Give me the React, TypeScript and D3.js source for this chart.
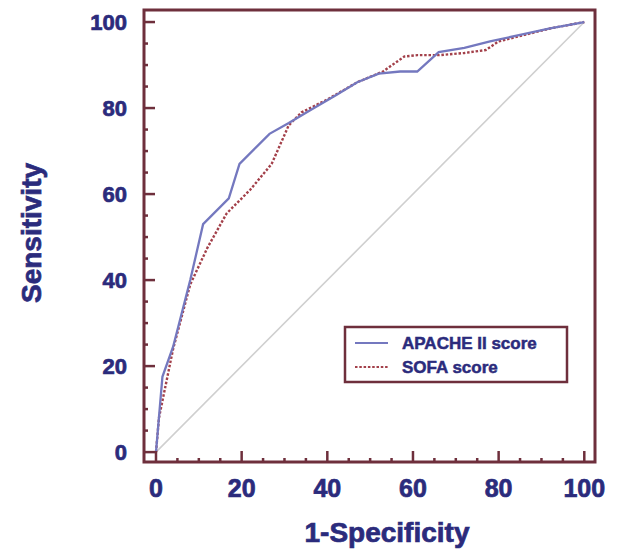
import React, { useEffect, useRef } from 'react';
import * as d3 from 'd3';

// ROC curves: [1-specificity, sensitivity]
const apacheX = [0, 1.5, 4, 8, 11, 17, 19.5, 26.5, 31, 36, 42, 47, 52, 57, 61, 66, 72, 78, 85, 92, 100];
const apacheY = [0, 17.5, 24.5, 40, 53, 59, 67, 74, 76.5, 79.5, 83, 86, 88, 88.5, 88.5, 93, 94, 95.5, 97, 98.5, 100];
const sofaX = [0, 0.7, 4, 8, 12, 16.5, 22, 27, 31, 34, 40, 47, 53, 58, 61, 66, 72, 77, 80, 86, 92, 100];
const sofaY = [0, 8, 24, 39, 47.5, 55.5, 61, 67, 76, 79, 82, 86, 88.5, 92, 92.3, 92.3, 92.8, 93.5, 95.5, 97, 98.5, 100];

const majorTicks = [0, 20, 40, 60, 80, 100];
const minorTicks = d3.range(0, 101, 5).filter(v => v % 20 !== 0);
const legendLabels = ['APACHE II score', 'SOFA score'];

const W = 618;
const H = 552;

export default function App() {
  const svgRef = useRef<SVGSVGElement>(null);

  useEffect(() => {
    if (!svgRef.current) return;
    const svg = d3.select(svgRef.current);
    svg.selectAll('*').remove();

    const frame = '#6e2f3c';
    const ink = '#2b2b7c';
    const font = "'Liberation Sans', Arial, sans-serif";
    const solidColor = '#7478bf';
    const dashColor = '#a3404a';

    const x = d3.scaleLinear().domain([-2.8, 102.5]).range([144, 595]);
    const y = d3.scaleLinear().domain([-2.3, 102.8]).range([462, 10]);

    svg.append('rect').attr('width', W).attr('height', H).attr('fill', '#ffffff');

    // chance diagonal
    svg.append('line')
      .attr('x1', x(0)).attr('y1', y(0))
      .attr('x2', x(100)).attr('y2', y(100))
      .attr('stroke', '#cfcfcf')
      .attr('stroke-width', 1.6);

    const line = d3.line<number[]>()
      .x(d => x(d[0]))
      .y(d => y(d[1]));

    const apache = apacheX.map((v, i) => [v, apacheY[i]]);
    const sofa = sofaX.map((v, i) => [v, sofaY[i]]);

    svg.append('path')
      .datum(sofa)
      .attr('fill', 'none')
      .attr('stroke', dashColor)
      .attr('stroke-width', 2.4)
      .attr('stroke-dasharray', '2.5,1.8')
      .attr('d', line);

    svg.append('path')
      .datum(apache)
      .attr('fill', 'none')
      .attr('stroke', solidColor)
      .attr('stroke-width', 2.3)
      .attr('d', line);

    // frame
    svg.append('rect')
      .attr('x', x.range()[0]).attr('y', y.range()[1])
      .attr('width', x.range()[1] - x.range()[0])
      .attr('height', y.range()[0] - y.range()[1])
      .attr('fill', 'none')
      .attr('stroke', frame)
      .attr('stroke-width', 3);

    // ticks pointing inward
    const x0 = x.range()[0];
    const yb = y.range()[0];
    const tickG = svg.append('g').attr('stroke', frame).attr('stroke-width', 2.5);
    tickG.append('g').selectAll('line').data(majorTicks).join('line')
      .attr('x1', d => x(d)).attr('x2', d => x(d))
      .attr('y1', yb).attr('y2', yb - 11);
    tickG.append('g').selectAll('line').data(minorTicks).join('line')
      .attr('x1', d => x(d)).attr('x2', d => x(d))
      .attr('y1', yb).attr('y2', yb - 4);
    tickG.append('g').selectAll('line').data(majorTicks).join('line')
      .attr('y1', d => y(d)).attr('y2', d => y(d))
      .attr('x1', x0).attr('x2', x0 + 11);
    tickG.append('g').selectAll('line').data(minorTicks).join('line')
      .attr('y1', d => y(d)).attr('y2', d => y(d))
      .attr('x1', x0).attr('x2', x0 + 4);

    const label = (sel: any, size: number) => sel
      .attr('font-family', font).attr('font-weight', 'bold')
      .attr('font-size', size).attr('fill', ink)
      .attr('stroke', ink).attr('stroke-width', 0.7);

    // tick labels
    svg.append('g').selectAll('text').data(majorTicks).join('text')
      .attr('x', d => x(d)).attr('y', 497)
      .attr('text-anchor', 'middle')
      .call(label, 25)
      .text(d => d);
    svg.append('g').selectAll('text').data(majorTicks).join('text')
      .attr('x', 127).attr('y', d => y(d) + 8)
      .attr('text-anchor', 'end')
      .call(label, 22)
      .text(d => d);

    // axis titles
    svg.append('text')
      .attr('x', 387).attr('y', 542)
      .attr('text-anchor', 'middle')
      .call(label, 28)
      .text('1-Specificity');
    svg.append('text')
      .attr('transform', 'translate(41,233) rotate(-90)')
      .attr('text-anchor', 'middle')
      .call(label, 28)
      .text('Sensitivity');

    // legend
    const lg = svg.append('g').attr('transform', 'translate(345,327)');
    lg.append('rect')
      .attr('width', 222).attr('height', 55)
      .attr('fill', '#ffffff')
      .attr('stroke', frame).attr('stroke-width', 2.5);
    const styles = [
      { color: solidColor, dash: null },
      { color: dashColor, dash: '2.5,1.8' },
    ];
    legendLabels.forEach((text, i) => {
      const ly = 16 + i * 24;
      lg.append('line')
        .attr('x1', 10).attr('x2', 43)
        .attr('y1', ly).attr('y2', ly)
        .attr('stroke', styles[i].color)
        .attr('stroke-width', 2.2)
        .attr('stroke-dasharray', styles[i].dash);
      lg.append('text')
        .attr('x', 57).attr('y', ly + 6)
        .call(label, 17)
        .attr('stroke-width', 0.5)
        .text(text);
    });
  }, []);

  return (
    <svg
      ref={svgRef}
      width={W}
      height={H}
      style={{ position: 'absolute', left: 0, top: 0 }}
    />
  );
}
